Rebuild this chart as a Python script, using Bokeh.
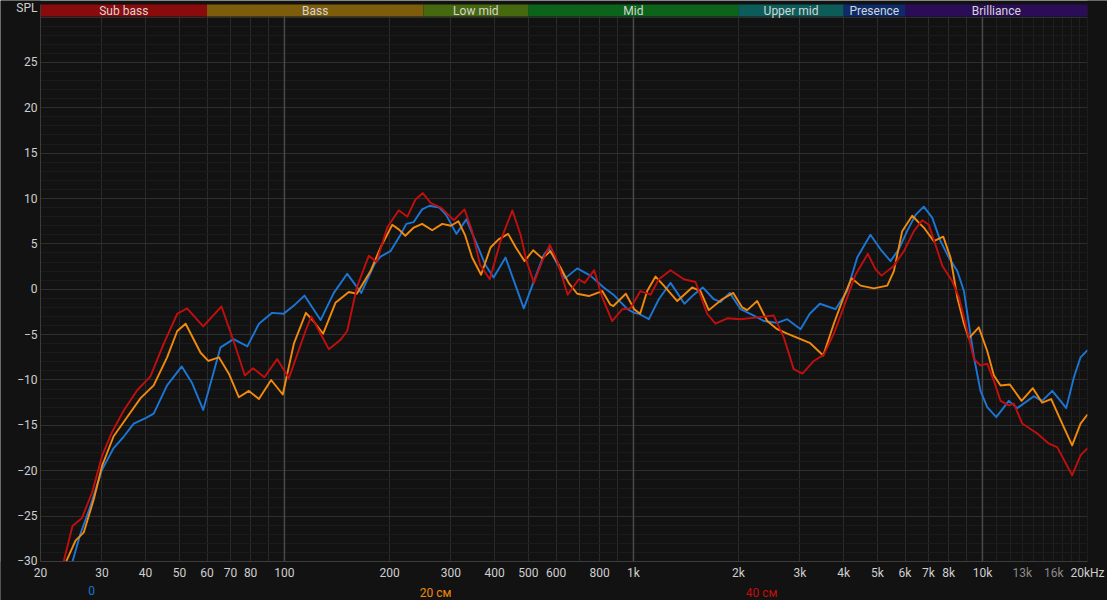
import re
from bokeh.plotting import figure
from bokeh.models import FixedTicker, Range1d, LogAxis
from bokeh.embed import file_html
from bokeh.resources import INLINE
from bokeh.core.properties import value

# ---------------- data ----------------
band_names = ["Sub bass", "Bass", "Low mid", "Mid", "Upper mid", "Presence", "Brilliance"]
band_lo = [20, 60, 250, 500, 2000, 4000, 6000]
band_hi = [60, 250, 500, 2000, 4000, 6000, 20000]
band_colors = ["#8a0b0b", "#7d5c0b", "#46680f", "#0b6419", "#0c5d5a", "#0d2b68", "#2b0d57"]

tick_freqs = [20, 30, 40, 50, 60, 70, 80, 100, 200, 300, 400, 500, 600, 800,
              1000, 2000, 3000, 4000, 5000, 6000, 7000, 8000, 10000, 13000, 16000, 20000]
tick_labels = ["20", "30", "40", "50", "60", "70", "80", "100", "200", "300", "400", "500", "600", "800",
               "1k", "2k", "3k", "4k", "5k", "6k", "7k", "8k", "10k", "13k", "16k", "20kHz"]
dim_ticks = [13000, 16000]

grid_major = [20, 30, 40, 50, 60, 70, 80, 90, 100, 200, 300, 400, 500, 600, 700, 800, 900,
              1000, 2000, 3000, 4000, 5000, 6000, 7000, 8000, 9000, 10000, 20000]
grid_minor = [11000, 12000, 13000, 14000, 15000, 16000, 17000, 18000, 19000]
bright_lines = [100, 1000, 10000]

y_ticks = [-30, -25, -20, -15, -10, -5, 0, 5, 10, 15, 20, 25]
y_title = "SPL"

series_names = ["0", "20 см", "40 см"]
series_colors = ["#1b76d6", "#f28a0c", "#c10f0f"]
legend_freqs = [28, 271, 2328]

blue_f = [24.7, 26.0, 27.8, 30, 32.4, 34.7, 37.0, 40, 42.2, 46.1,
          50.8, 54.3, 58.5, 62.1, 65.6, 71.5, 78.3, 84.5, 92.2, 99.5,
          106.4, 114.1, 126.9, 138.5, 151.3, 166, 180.7, 188.5, 201.3, 215,
          223.5, 234.7, 248, 260.5, 278, 290.5, 311, 332, 356.5, 376.3,
          397.4, 430, 454.7, 485, 518.5, 553.6, 572, 611, 637, 690,
          753, 822, 876, 962, 1005, 1036, 1107, 1182, 1277, 1335,
          1400, 1489, 1580, 1699, 1775, 1888, 2028, 2213, 2364, 2582,
          2759, 3012, 3200, 3421, 3793, 4096, 4376, 4776, 5104, 5452,
          5758, 6083, 6432, 6791, 7178, 7584, 8012, 8471, 8851, 9141,
          9456, 9872, 10320, 10955, 11900, 12580, 14040, 14830, 15850, 16735,
          17380, 18285, 19100, 20000]
blue_db = [-30, -27.0, -23.9, -19.9, -17.5, -16.2, -14.8, -14.2, -13.7, -10.6,
           -8.5, -10.3, -13.3, -9.7, -6.4, -5.5, -6.3, -3.8, -2.6, -2.7,
           -1.8, -0.7, -3.4, -0.4, 1.7, -0.4, 2.7, 3.6, 4.2, 6.0,
           7.2, 7.4, 8.8, 9.2, 9.0, 8.2, 6.1, 7.7, 4.9, 2.7,
           1.3, 3.5, 0.9, -2.1, 0.9, 3.8, 4.5, 2.5, 1.2, 2.3,
           1.5, 0.2, -0.6, -2.2, -2.6, -2.7, -3.3, -1.1, 0.7, -0.4,
           -1.6, -0.6, 0.2, -1.1, -1.4, -0.4, -2.2, -2.9, -3.5, -3.7,
           -3.3, -4.4, -2.7, -1.6, -2.2, -0.2, 3.5, 6.0, 4.4, 3.1,
           4.4, 6.4, 8.2, 9.1, 7.9, 5.3, 3.5, 2.0, -0.2, -3.8,
           -7.5, -11.2, -13.0, -14.1, -12.3, -13.1, -11.8, -12.3, -11.2, -12.3,
           -13.1, -9.7, -7.5, -6.7]

orange_f = [23.7, 25.2, 26.6, 28.4, 30.0, 32.4, 35.4, 38.7, 42.2, 46.1,
            49.3, 52.1, 57.5, 60.5, 64.9, 69.3, 74, 79.1, 84.5, 91.6,
            98.9, 106.4, 115.2, 121, 129.1, 140, 152.9, 161.2, 176.5, 188.5,
            203.6, 212.6, 222, 234.7, 248, 265.1, 283.2, 300, 315, 329,
            345, 366, 389.5, 410.7, 437.6, 460.2, 487.6, 516, 547.8, 578.5,
            618, 652, 690, 745, 814, 859, 876, 951, 1005, 1045,
            1095, 1157, 1222, 1335, 1473, 1556, 1644, 1796, 1932, 2050,
            2118, 2262, 2417, 2582, 2759, 3012, 3200, 3497, 3751, 4000,
            4215, 4475, 4884, 5337, 5575, 5889, 6290, 6791, 7254, 7721,
            8100, 8471, 8851, 9141, 9762, 10320, 10785, 11268, 11983, 12945,
            13944, 14830, 15740, 16924, 18071, 19100, 20000]
orange_db = [-30, -27.7, -26.8, -23.2, -19.5, -16.2, -14.1, -12.0, -10.6, -7.5,
             -4.6, -3.8, -7.0, -7.9, -7.5, -9.3, -11.9, -11.2, -12.1, -10.0,
             -11.6, -6.0, -2.6, -3.5, -4.9, -1.5, -0.3, -0.5, 2.0, 4.6,
             7.1, 6.6, 5.9, 6.8, 7.2, 6.5, 7.2, 7.0, 7.5, 6.0,
             3.5, 1.6, 4.6, 5.5, 6.1, 4.6, 3.1, 4.3, 3.4, 4.2,
             2.4, 0.7, -0.5, -0.75, -0.2, -1.7, -1.85, -0.5, -2.2, -2.7,
             -0.2, 1.4, 0.4, -1.3, 0.2, -0.2, -2.3, -1.1, -0.4, -2.0,
             -2.3, -1.3, -3.5, -4.4, -4.9, -5.5, -5.9, -7.3, -3.8, -0.9,
             1.2, 0.4, 0.1, 0.4, 2.0, 6.4, 8.1, 6.8, 5.3, 5.8,
             3.5, -0.9, -3.8, -5.4, -4.2, -6.8, -9.5, -10.6, -10.5, -12.3,
             -10.9, -12.5, -12.1, -14.8, -17.2, -14.8, -13.8]

red_f = [23.3, 24.7, 26.3, 28.1, 30.0, 32.1, 34.7, 37.9, 41.3, 45.1,
         49.3, 52.6, 58.5, 66.0, 71.5, 77.0, 81.3, 87.6, 95.3, 103,
         114.9, 119.4, 126.9, 134, 144.5, 151.3, 161.2, 174.5, 183.7, 197,
         212.6, 225, 237.4, 249.2, 262.6, 280.8, 305.7, 328, 345, 363.5,
         387.6, 416, 449.8, 474.8, 494, 518.5, 547.8, 576, 605, 648,
         697, 724.8, 771.8, 814, 869, 929, 981, 1047, 1119, 1182,
         1277, 1394, 1506, 1626, 1718, 1857, 2028, 2262, 2524, 2696,
         2878, 3050, 3287, 3512, 3751, 4000, 4328, 4695, 4939, 5141,
         5575, 5956, 6360, 6722, 7022, 7336, 7670, 8188, 8565, 9049,
         9456, 9872, 10320, 10785, 11268, 11900, 12302, 13000, 14354, 15488,
         16374, 18071, 19100, 20000]
red_db = [-30, -26.1, -25.2, -22.4, -18.4, -15.7, -13.3, -11.1, -9.6, -6.0,
          -2.7, -2.1, -4.1, -1.9, -5.7, -9.5, -8.7, -9.7, -7.7, -9.8,
          -4.6, -3.0, -4.9, -6.6, -5.6, -4.6, 0.2, 3.7, 3.0, 6.8,
          8.7, 8.0, 9.9, 10.6, 9.5, 9.0, 7.6, 8.8, 6.4, 2.7,
          1.1, 5.3, 8.7, 6.0, 3.1, 0.7, 3.1, 4.9, 3.1, -0.6,
          1.1, 0.7, 2.1, -0.9, -3.5, -2.2, -2.1, -0.2, -0.6, 1.1,
          2.1, 1.1, 0.8, -2.7, -3.8, -3.2, -3.3, -3.1, -2.9, -5.3,
          -8.8, -9.3, -7.9, -7.2, -4.9, -2.0, 1.6, 3.9, 2.2, 1.5,
          2.6, 4.2, 6.4, 7.6, 7.1, 4.9, 2.6, 0.9, -0.9, -4.6,
          -7.7, -8.4, -8.2, -10.1, -12.3, -12.8, -12.6, -14.8, -15.9, -17.0,
          -17.4, -20.5, -18.3, -17.5]

assert len(blue_f) == len(blue_db)
assert len(orange_f) == len(orange_db)
assert len(red_f) == len(red_db)

# ---------------- figure ----------------
FONT = "Roboto"
BG = "#121212"
F_MIN, F_MAX = 20, 20000     # chart area, Hz
Y_MIN = -30                  # bottom of chart area, dB
Y_BAND = 30.05               # bottom of band header
Y_BAND_TOP = 31.38           # top of band header
# the frame covers the whole canvas; labels live outside the chart area
X_LO, X_HI = 15.36, 22820
Y_LO, Y_HI = -34.3, 31.82

p = figure(width=1107, height=600, x_axis_type="log",
           x_range=Range1d(X_LO, X_HI), y_range=Range1d(Y_LO, Y_HI),
           output_backend="svg", toolbar_location=None,
           min_border_left=0, min_border_right=0, min_border_top=0, min_border_bottom=0,
           background_fill_color=BG, border_fill_color=BG, outline_line_color=None)

# grid
p.xgrid.ticker = FixedTicker(ticks=grid_major, minor_ticks=grid_minor)
p.xgrid.grid_line_color = "#2b2b2b"
p.xgrid.minor_grid_line_color = "#1f1f1f"
p.ygrid.ticker = FixedTicker(ticks=list(range(-30, 31, 5)), minor_ticks=list(range(-30, 31)))
p.ygrid.grid_line_color = "#2e2e2e"
p.ygrid.minor_grid_line_color = "#1b1b1b"
if "cross_bounds" in p.xgrid[0].properties():
    p.xgrid.cross_bounds = (Y_MIN, Y_BAND_TOP)
    p.ygrid.cross_bounds = (F_MIN, F_MAX)

# brighter decade lines
p.segment(x0=bright_lines, y0=[Y_MIN] * len(bright_lines), x1=bright_lines,
          y1=[Y_BAND] * len(bright_lines), line_color="#4a4a4a", line_width=1.5)


def style_axis(ax, color="#cfcfcf"):
    ax.major_tick_out = 0
    ax.major_tick_in = 0
    ax.minor_tick_out = 0
    ax.minor_tick_in = 0
    ax.major_label_text_color = color
    ax.major_label_text_font = FONT
    ax.major_label_text_font_size = "12px"


# frequency bands header
p.quad(left=band_lo, right=band_hi, bottom=Y_BAND, top=Y_BAND_TOP, fill_color=band_colors, line_color=None)
band_mid = [(lo * hi) ** 0.5 for lo, hi in zip(band_lo, band_hi)]
p.text(x=band_mid, y=[(Y_BAND + Y_BAND_TOP) / 2] * len(band_mid), text=band_names, text_align="center",
       text_baseline="middle", text_color="#d5d5d5", text_font=value(FONT), text_font_size="12px")

# curves
for fx, dy, col in [(blue_f, blue_db, series_colors[0]),
                    (orange_f, orange_db, series_colors[1]),
                    (red_f, red_db, series_colors[2])]:
    p.line(fx, dy, line_color=col, line_width=1.9, line_join="round")

# masks outside the chart area (in case grid lines run past it)
p.quad(left=[X_LO, F_MAX, X_LO], right=[F_MIN, X_HI, X_HI], bottom=[Y_LO, Y_LO, Y_LO],
       top=[Y_HI, Y_HI, Y_MIN], fill_color=BG, line_color=None)

# y axis fixed at the left edge of the chart area
p.yaxis.fixed_location = F_MIN
p.yaxis.ticker = FixedTicker(ticks=y_ticks + [31])
p.yaxis.major_label_overrides = {31: y_title}
p.yaxis.bounds = (Y_MIN, Y_BAND_TOP)
style_axis(p.yaxis[0])
p.yaxis.axis_line_color = "#3c3c3c"
p.yaxis.major_label_standoff = 3

# x axis fixed at the bottom of the chart area
p.xaxis.ticker = FixedTicker(ticks=tick_freqs)
p.xaxis.major_label_overrides = {int(f): ("" if f in dim_ticks else lab)
                                 for f, lab in zip(tick_freqs, tick_labels)}
p.xaxis.fixed_location = Y_MIN
p.xaxis.bounds = (F_MIN, F_MAX)
style_axis(p.xaxis[0])
p.xaxis.axis_line_color = "#3c3c3c"
p.xaxis.major_label_standoff = 5

# dimmed tick labels (13k, 16k)
dim_axis = LogAxis(ticker=FixedTicker(ticks=dim_ticks),
                   major_label_overrides={int(f): lab for f, lab in zip(tick_freqs, tick_labels) if f in dim_ticks},
                   fixed_location=Y_MIN, axis_line_color=None, major_label_standoff=5)
style_axis(dim_axis, "#8a8a8a")
p.add_layout(dim_axis, "below")

# series names under the axis
for f, name, col in zip(legend_freqs, series_names, series_colors):
    lax = LogAxis(ticker=FixedTicker(ticks=[f]), major_label_overrides={int(f): name},
                  fixed_location=-32.1, axis_line_color=None, major_label_standoff=5)
    style_axis(lax, col)
    p.add_layout(lax, "below")

html = file_html(p, INLINE)
html = re.sub(r"<body([^>]*)>", r'<body\1 style="background-color:#121212;">', html, count=1)
open("out.html", "w").write(html)
